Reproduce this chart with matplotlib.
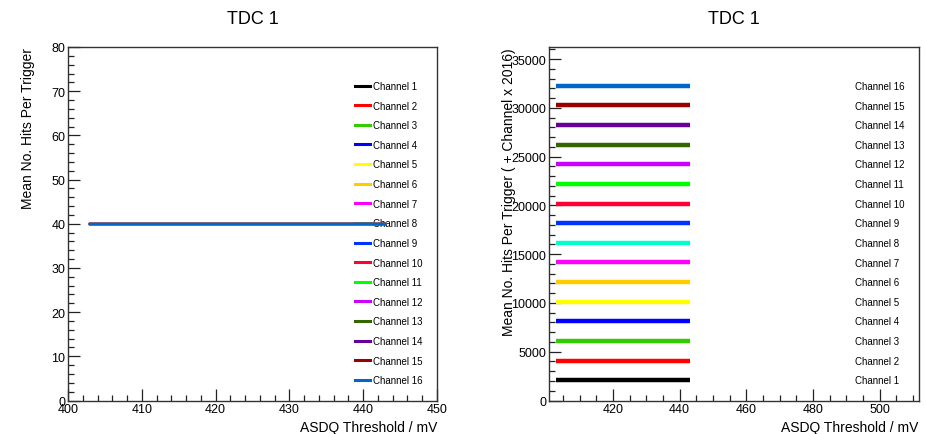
import numpy as np
import matplotlib
matplotlib.use("Agg")
import matplotlib.pyplot as plt
from matplotlib.ticker import MultipleLocator

# ======================= data
thresholds = [403, 408, 413, 418, 423, 428, 433, 438, 443]   # ASDQ threshold / mV
channels = list(range(1, 17))
mean_hits = [40.0, 40.0, 40.0, 40.0, 40.0, 40.0, 40.0, 40.0,
             40.0, 40.0, 40.0, 40.0, 40.0, 40.0, 40.0, 40.0]  # per channel, flat
channel_offset = 2016
colours = ["#000000", "#ff0000", "#33cc00", "#0000ff", "#ffff00", "#ffcc00",
           "#ff00ff", "#00ffcc", "#0033ff", "#ff0033", "#00ff00", "#cc00ff",
           "#336600", "#660099", "#990000", "#0066cc"]
labels = ["Channel %d" % c for c in channels]

plt.rcParams['font.family'] = ['Liberation Sans', 'DejaVu Sans']

fig = plt.figure(figsize=(9.26, 4.35), dpi=100)
ax1 = fig.add_axes([68/926, 33.5/435, 369/926, 353.5/435])
ax2 = fig.add_axes([549/926, 33.5/435, 369.7/926, 353.5/435])


def style_axis(ax):
    for side in ['top', 'right', 'left', 'bottom']:
        ax.spines[side].set_color('#333333')
        ax.spines[side].set_linewidth(1.0)
    ax.tick_params(which='both', direction='in', top=False, right=False,
                   labelsize=9, color='#222222')
    ax.tick_params(which='major', length=8.5, width=0.9, pad=2)
    ax.tick_params(which='minor', length=4, width=0.9)
    ax.set_title("TDC 1", fontsize=13, pad=17)
    ax.set_xlabel("ASDQ Threshold / mV", fontsize=10, loc='right')
    ax.xaxis.set_label_coords(1.0, -0.055)


# ======================= left pad: raw mean hits
for i, c in enumerate(channels):
    y = [mean_hits[i]] * len(thresholds)
    ax1.plot(thresholds, y, color=colours[i], lw=1.6, label=labels[i], zorder=3)
ax1.set_xlim(400, 450)
ax1.set_ylim(0, 80)
ax1.xaxis.set_major_locator(MultipleLocator(10))
ax1.xaxis.set_minor_locator(MultipleLocator(2))
ax1.yaxis.set_major_locator(MultipleLocator(10))
ax1.yaxis.set_minor_locator(MultipleLocator(2))
style_axis(ax1)
ax1.set_ylabel("Mean No. Hits Per Trigger", fontsize=10, loc='top')
ax1.yaxis.set_label_coords(-0.089, 1.0)
leg1 = ax1.legend(loc='upper left', bbox_to_anchor=(0.778, 0.904), frameon=False,
                  fontsize=7, handlelength=1.55, handletextpad=0.3,
                  labelspacing=0.99, borderpad=0, borderaxespad=0)
for h in leg1.get_lines():
    h.set_linewidth(2.2)
leg1.set_zorder(1)

# ======================= right pad: offset by channel
for i, c in enumerate(channels):
    y = [mean_hits[i] + c * channel_offset] * len(thresholds)
    ax2.plot(thresholds, y, color=colours[i], lw=3.2, label=labels[i],
             solid_capstyle='butt', zorder=3)
ax2.set_xlim(400.8, 511.7)
ax2.set_ylim(0, 36250)
ax2.xaxis.set_major_locator(MultipleLocator(20))
ax2.xaxis.set_minor_locator(MultipleLocator(5))
ax2.yaxis.set_major_locator(MultipleLocator(5000))
ax2.yaxis.set_minor_locator(MultipleLocator(1000))
style_axis(ax2)
ax2.set_ylabel("Mean No. Hits Per Trigger ( + Channel x 2016)", fontsize=10, loc='top')
ax2.yaxis.set_label_coords(-0.089, 1.0)
h2, l2 = ax2.get_legend_handles_labels()
leg2 = ax2.legend(h2[::-1], l2[::-1], loc='upper left', bbox_to_anchor=(0.828, 0.904),
                  frameon=False, fontsize=7, handlelength=0, handletextpad=0,
                  labelspacing=0.99, borderpad=0, borderaxespad=0)
for h in leg2.legend_handles:
    h.set_visible(False)

fig.savefig("out.png", dpi=100)
